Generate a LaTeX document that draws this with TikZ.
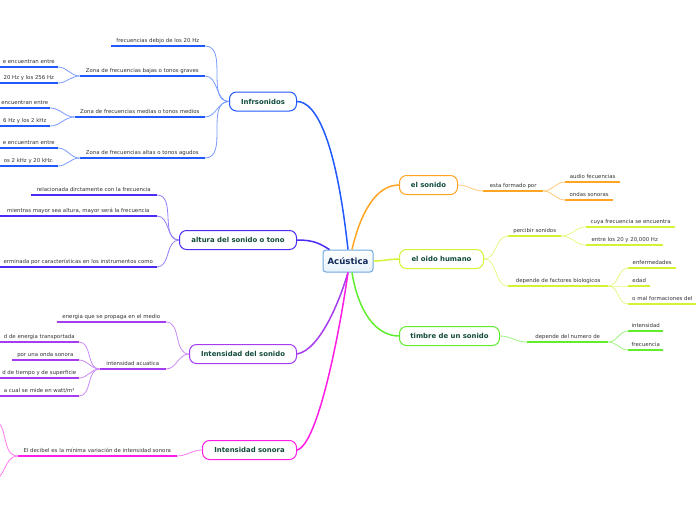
\documentclass[tikz,border=0pt]{standalone}
\usepackage{fontspec}
\setmainfont{DejaVu Sans}
\usetikzlibrary{positioning}

\definecolor{infraC}{HTML}{2259FF}
\definecolor{altC}{HTML}{4A2CF5}
\definecolor{isdC}{HTML}{A63CF0}
\definecolor{isoC}{HTML}{FF1EE6}
\definecolor{sonC}{HTML}{FFA523}
\definecolor{oidC}{HTML}{D6F234}
\definecolor{timC}{HTML}{5FED2E}
\definecolor{cenC}{HTML}{6FA8DC}
\definecolor{cenFill}{HTML}{E6F1FB}
\definecolor{cenText}{HTML}{102A5C}
\definecolor{nodeText}{HTML}{124B3C}
\definecolor{subText}{HTML}{333333}

\begin{document}
\begin{tikzpicture}[
    x=1pt, y=-1pt,
    topic/.style={draw=#1, line width=1pt, rounded corners=7pt, fill=white,
        minimum height=19pt, inner sep=0pt,
        font=\fontsize{6.9}{8}\selectfont\bfseries, text=nodeText},
    sub/.style={font=\fontsize{5.4}{6}\selectfont, text=subText,
        inner xsep=0pt, inner ysep=2pt, text height=4pt, text depth=1.2pt,
        append after command={(\tikzlastnode.south west) edge[draw=#1, line width=1.7pt] (\tikzlastnode.south east)}},
    branch/.style={draw=#1, line width=1.5pt},
    twig/.style={draw=#1!60!white, line width=0.8pt}
]

    % Page size
    \useasboundingbox (0,0) rectangle (696,520);

    % Central topic
    \node[draw=cenC, line width=1pt, rounded corners=3pt, top color=white, bottom color=cenFill,
        minimum width=50pt, minimum height=22pt, inner sep=0pt,
        font=\fontsize{8.6}{10}\selectfont\bfseries, text=cenText] (cen) at (348,261) {Acústica};

    % Main topics, left side
    \node[topic=infraC, minimum width=67pt, anchor=east] (infra) at (297,101.5) {Infrsonidos};
    \node[topic=altC, minimum width=117pt, anchor=east] (alt) at (297,240) {altura del sonido o tono};
    \node[topic=isdC, minimum width=107pt, anchor=east] (isd) at (297,354) {Intensidad del sonido};
    \node[topic=isoC, minimum width=94pt, anchor=east] (iso) at (297,450) {Intensidad sonora};

    % Main topics, right side
    \node[topic=sonC, minimum width=58pt, anchor=west] (son) at (399,185) {el sonido};
    \node[topic=oidC, minimum width=84pt, anchor=west] (oid) at (399,259) {el oido humano};
    \node[topic=timC, minimum width=100pt, anchor=west] (tim) at (399,336) {timbre de un sonido};

    % Branches from the centre
    \draw[branch=infraC] (cen.north) .. controls (336,140) and (316,101.5) .. (infra.east);
    \draw[branch=altC] ([xshift=7pt]cen.north west) .. controls (320,244) and (315,240) .. (alt.east);
    \draw[branch=isdC] (cen.south) .. controls (340,300) and (320,350) .. (isd.east);
    \draw[branch=isoC] (cen.south) .. controls (340,330) and (318,445) .. (iso.east);
    \draw[branch=sonC] ([xshift=4pt]cen.north) .. controls (360,215) and (375,185) .. (son.west);
    \draw[branch=oidC] (cen.east) to[out=0,in=180] (oid.west);
    \draw[branch=timC] ([xshift=4pt]cen.south) .. controls (358,310) and (375,336) .. (tim.west);

    % Infrsonidos
    \node[sub=infraC, minimum width=94pt, anchor=south east] (i1) at (205,46) {frecuencias debjo de los 20 Hz};
    \node[sub=infraC, minimum width=125pt, anchor=south east] (i2) at (205,76) {Zona de frecuencias bajas o tonos graves};
    \node[sub=infraC, minimum width=130pt, anchor=south east] (i3) at (205,117) {Zona de frecuencias medias o tonos medios};
    \node[sub=infraC, minimum width=125pt, anchor=south east] (i4) at (205,158) {Zona de frecuencias altas o tonos agudos};
    \node[sub=infraC, minimum width=58pt, anchor=south east] (i21) at (58,67) {e encuentran entre};
    \node[sub=infraC, minimum width=58pt, anchor=south east] (i22) at (58,83) {20 Hz y los 256 Hz};
    \node[sub=infraC, minimum width=50pt, anchor=south east] (i31) at (50,108) {encuentran entre};
    \node[sub=infraC, minimum width=50pt, anchor=south east] (i32) at (50,126) {6 Hz y los 2 kHz};
    \node[sub=infraC, minimum width=58pt, anchor=south east] (i41) at (58,148) {e encuentran entre};
    \node[sub=infraC, minimum width=58pt, anchor=south east] (i42) at (58,166) {os 2 kHz y 20 kHz.};
    \foreach \n in {i1,i2,i3,i4}
        \draw[twig=infraC] (infra.west) to[out=180,in=0] (\n.south east);
    \draw[twig=infraC] (i2.south west) to[out=180,in=0] (i21.south east);
    \draw[twig=infraC] (i2.south west) to[out=180,in=0] (i22.south east);
    \draw[twig=infraC] (i3.south west) to[out=180,in=0] (i31.south east);
    \draw[twig=infraC] (i3.south west) to[out=180,in=0] (i32.south east);
    \draw[twig=infraC] (i4.south west) to[out=180,in=0] (i41.south east);
    \draw[twig=infraC] (i4.south west) to[out=180,in=0] (i42.south east);

    % altura del sonido o tono
    \node[sub=altC, minimum width=126pt, anchor=south east] (a1) at (157,195) {relacionada dirctamente con la frecuencia};
    \node[sub=altC, minimum width=157pt, anchor=south east] (a2) at (157,216) {mientras mayor sea altura, mayor será la frecuencia};
    \node[sub=altC, minimum width=157pt, anchor=south east] (a3) at (157,267) {erminada por características en los instrumentos como};
    \foreach \n in {a1,a2,a3}
        \draw[twig=altC] (alt.west) to[out=180,in=0] (\n.south east);

    % Intensidad del sonido
    \node[sub=isdC, minimum width=109pt, anchor=south east] (s1) at (166,322) {energia que se propaga en el medio};
    \node[sub=isdC, minimum width=66pt, anchor=south east] (s2) at (166,369) {intensidad acuatica};
    \node[sub=isdC, minimum width=79pt, anchor=south east] (s21) at (79,342) {d de energia transportada};
    \node[sub=isdC, minimum width=67pt, anchor=south east] (s22) at (79,360) {por una onda sonora};
    \node[sub=isdC, minimum width=79pt, anchor=south east] (s23) at (79,378) {d de tiempo y de superficie};
    \node[sub=isdC, minimum width=79pt, anchor=south east] (s24) at (79,396) {a cual se mide en watt/m²};
    \foreach \n in {s1,s2}
        \draw[twig=isdC] (isd.west) to[out=180,in=0] (\n.south east);
    \foreach \n in {s21,s22,s23,s24}
        \draw[twig=isdC] (s2.south west) to[out=180,in=0] (\n.south east);

    % Intensidad sonora
    \node[sub=isoC, minimum width=159pt, anchor=south east, text=black!80] (d1) at (177,456) {El decibel es la mínima variación de intensidad sonora};
    \coordinate (d11) at (-8,420);
    \coordinate (d12) at (-8,480);
    \draw[twig=isoC] (iso.west) to[out=180,in=0] (d1.south east);
    \draw[twig=isoC] (d1.south west) to[out=180,in=0] (d11);
    \draw[twig=isoC] (d1.south west) to[out=180,in=0] (d12);

    % el sonido
    \node[sub=sonC, minimum width=60pt, anchor=south west] (o1) at (483,191) {esta formado por};
    \node[sub=sonC, minimum width=55pt, anchor=south west] (o11) at (565,182) {audio fecuencias};
    \node[sub=sonC, minimum width=48pt, anchor=south west] (o12) at (565,200) {ondas sonoras};
    \draw[twig=sonC] (son.east) to[out=0,in=180] (o1.south west);
    \foreach \n in {o11,o12}
        \draw[twig=sonC] (o1.south east) to[out=0,in=180] (\n.south west);

    % el oido humano
    \node[sub=oidC, minimum width=53pt, anchor=south west] (h1) at (508,236) {percibir sonidos};
    \node[sub=oidC, minimum width=100pt, anchor=south west] (h2) at (508,286) {depende de factores biologicos};
    \node[sub=oidC, minimum width=89pt, anchor=south west] (h11) at (586,227) {cuya frecuencia se encuentra};
    \node[sub=oidC, minimum width=77pt, anchor=south west] (h12) at (586,245) {entre los 20 y 20,000 Hz};
    \node[sub=oidC, minimum width=48pt, anchor=south west] (h21) at (628,268) {enfermedades};
    \node[sub=oidC, minimum width=22pt, anchor=south west] (h22) at (628,286) {edad};
    \node[sub=oidC, inner xsep=4pt, text width=76pt, align=left, anchor=south west] (h23) at (628,304) {o mal formaciones del};
    \foreach \n in {h1,h2}
        \draw[twig=oidC] (oid.east) to[out=0,in=180] (\n.south west);
    \foreach \n in {h11,h12}
        \draw[twig=oidC] (h1.south east) to[out=0,in=180] (\n.south west);
    \foreach \n in {h21,h22,h23}
        \draw[twig=oidC] (h2.south east) to[out=0,in=180] (\n.south west);

    % timbre de un sonido
    \node[sub=timC, minimum width=81pt, anchor=south west] (t1) at (527,342) {depende del numero de};
    \node[sub=timC, minimum width=35pt, anchor=south west] (t11) at (628,331) {intensidad};
    \node[sub=timC, minimum width=35pt, anchor=south west] (t12) at (628,350) {frecuencia};
    \draw[twig=timC] (tim.east) to[out=0,in=180] (t1.south west);
    \foreach \n in {t11,t12}
        \draw[twig=timC] (t1.south east) to[out=0,in=180] (\n.south west);

\end{tikzpicture}
\end{document}
